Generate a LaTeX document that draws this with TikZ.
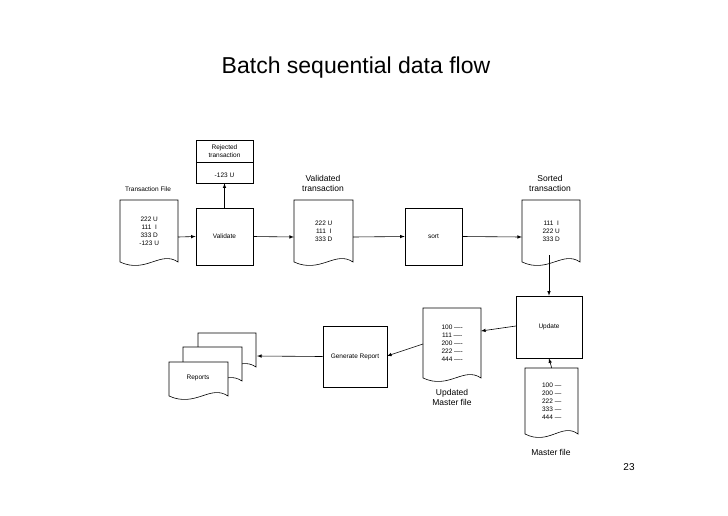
\documentclass[tikz,border=0pt]{standalone}
\usepackage{fontspec}
\setmainfont{Liberation Sans}
\begin{document}
\begin{tikzpicture}[x=1pt,y=-1pt,
  box/.style={draw,line width=0.6pt,inner sep=0pt,font=\fontsize{6.5}{8}\selectfont,align=center},
  ar/.style={-latex,line width=0.6pt},
  lbl/.style={font=\fontsize{6.5}{8}\selectfont,align=center},
  big/.style={font=\fontsize{8.5}{10}\selectfont,align=center}]
\useasboundingbox (0,0) rectangle (728,515);
% doc shape: #1 name, x1,y1,x2,y2(bottom of wave)
\newcommand\mydoc[6]{%
  \node[draw=none,inner sep=0pt,minimum width=#4-#2,minimum height=#5-#3,anchor=north west,align=center,font=\fontsize{6.5}{8}\selectfont] (#1) at (#2,#3) {#6};
  \draw[line width=0.6pt,fill=white] (#2,#5) -- (#2,#3) -- (#4,#3) -- (#4,#5)
     .. controls ({#4-0.3*(#4-#2)},#5-12) and ({#2+0.45*(#4-#2)},#5+12) .. (#2,#5);
  \node[draw=none,inner sep=0pt,align=center,font=\fontsize{6.5}{8}\selectfont] at (#1) {#6};}
\node[font=\fontsize{23}{26}\selectfont] (title) at (356,68) {Batch sequential data flow};
\node[font=\fontsize{10}{12}\selectfont] (pg) at (629,467) {23};

\mydoc{tf}{120}{200}{178}{262}{222 U\\111\ \ I\\333 D\\-123 U}
\node[lbl] (tfl) at (148,189) {Transaction File};
\node[box,minimum width=57,minimum height=57] (val) at (224.5,236.5) {Validate};
\node[box,minimum width=57,minimum height=43] (rej) at (224.5,161.5) {};
\draw[line width=0.6pt] (196,162) -- (253,162);
\node[lbl] (rejt) at (224.5,151) {Rejected\\transaction};
\node[lbl] (rejv) at (224.5,175) {-123 U};
\mydoc{vd}{294}{200}{353}{262}{222 U\\111\ \ I\\333 D}
\node[big] (vdl) at (323,183) {Validated\\transaction};
\node[box,minimum width=57,minimum height=57] (sort) at (433.5,236.5) {sort};
\mydoc{sd}{522}{200}{580}{262}{111\ \ I\\222 U\\333 D}
\node[big] (sdl) at (550,183) {Sorted\\transaction};
\node[box,minimum width=66,minimum height=62] (upd) at (549,327) {Update};
\mydoc{um}{423}{308}{481}{378}{100 ----\\111 ----\\200 ----\\222 ----\\444 ----}
\node[big] (uml) at (452,397) {Updated\\Master file};
\mydoc{mf}{525}{368}{578}{434}{100 ---\\200 ---\\222 ---\\333 ---\\444 ---}
\node[big] (mfl) at (551,452) {Master file};
\node[box,minimum width=64,minimum height=61] (gen) at (355,356.5) {Generate Report};
\mydoc{r3}{198}{333}{256}{367}{}
\mydoc{r2}{183}{347}{242}{381}{}
\mydoc{r1}{169}{362}{228}{396}{}
\node[lbl] (rep) at (198,378) {Reports};

\draw[ar] (178,237) -- (val.west);
\draw[ar] (val.north) -- (rej.south);
\draw[ar] (val.east) -- (294,237);
\draw[ar] (353,237) -- (sort.west);
\draw[ar] (sort.east) -- (522,237);
\draw[ar] (549,255) -- (upd.north);
\draw[ar] (mf.north) -- (upd.south);
\draw[ar] (516,326) -- (481,331);
\draw[ar] (423,344) -- (387,356);
\draw[ar] (gen.west) -- (257,356);
\end{tikzpicture}
\end{document}
